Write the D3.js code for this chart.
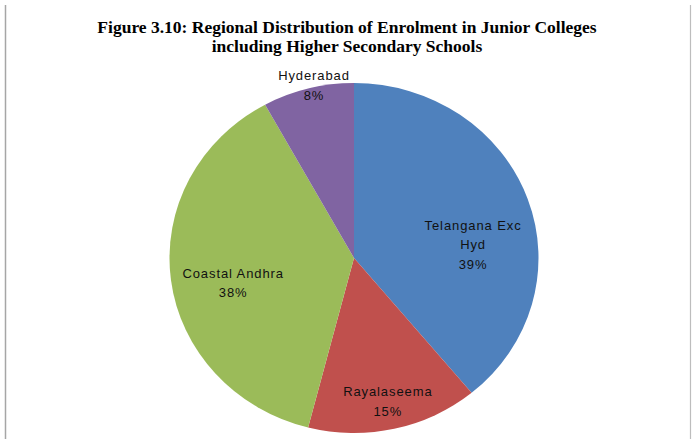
<!DOCTYPE html>
<html>
<head>
<meta charset="utf-8">
<script src="https://cdn.jsdelivr.net/npm/d3@7"></script>
<style>
  html,body{margin:0;padding:0;background:#fff;}
  svg{display:block;}
  .ttl{font-family:"Liberation Serif","Times New Roman",serif;font-weight:bold;font-size:17.5px;fill:#000;}
  .lbl{font-family:"Liberation Sans",Arial,sans-serif;font-size:13px;letter-spacing:0.9px;fill:#111;}
</style>
</head>
<body>
<svg id="chart"></svg>
<script>
'use strict';
// regional shares of enrolment (%), clockwise from 12 o'clock
const regions=['Telangana Exc Hyd','Rayalaseema','Coastal Andhra','Hyderabad'];
const labelLines=[['Telangana Exc','Hyd'],['Rayalaseema'],['Coastal Andhra'],['Hyderabad']];
const shares=[39,15,38,8];
const colors=['#4F81BD','#C0504D','#9BBB59','#8064A2'];
const titleLines=['Figure 3.10: Regional Distribution of Enrolment in Junior Colleges',
                  'including Higher Secondary Schools'];

// Excel "best fit" label placement: radial fraction + angular nudge (deg) per slice
const labelFit=[{f:0.65,da:13},{f:0.84,da:0},{f:0.67,da:-5},{f:1.01,da:2}];

const W=692,H=439;
const svg=d3.select('#chart').attr('width',W).attr('height',H);

// frame lines left/right
svg.append('line').attr('x1',5.5).attr('x2',5.5).attr('y1',5).attr('y2',H)
  .attr('stroke','#a6a6a6').attr('stroke-width',1.5);
svg.append('line').attr('x1',690.5).attr('x2',690.5).attr('y1',5).attr('y2',H)
  .attr('stroke','#bdbdbd').attr('stroke-width',1.2);

svg.selectAll('.ttl').data(titleLines).join('text').attr('class','ttl')
  .attr('x',347).attr('y',(d,i)=>33+i*19).attr('text-anchor','middle').text(d=>d);

const cx=354,cy=258,rx=184.5,ry=175;
const pie=d3.pie().sort(null).value(d=>d)(shares);
const arc=d3.arc().innerRadius(0).outerRadius(rx);

const g=svg.append('g').attr('transform',`translate(${cx},${cy}) scale(1,${ry/rx})`);
g.selectAll('path').data(pie).join('path')
  .attr('d',arc).attr('fill',(d,i)=>colors[i]);

// labels (kept outside the squashed group so text isn't distorted)
const lg=svg.append('g').attr('transform',`translate(${cx},${cy})`);
const lh=19.5;
pie.forEach((d,i)=>{
  const a=(d.startAngle+d.endAngle)/2+labelFit[i].da*Math.PI/180;
  const x=Math.sin(a)*rx*labelFit[i].f, y=-Math.cos(a)*ry*labelFit[i].f;
  const lines=labelLines[i].concat([shares[i]+'%']);
  const t=lg.append('text').attr('class','lbl').attr('text-anchor','middle');
  lines.forEach((s,k)=>{
    t.append('tspan').attr('x',x).attr('y',y+(k-(lines.length-1)/2)*lh)
      .attr('dominant-baseline','central').text(s);
  });
});
</script>
</body>
</html>
